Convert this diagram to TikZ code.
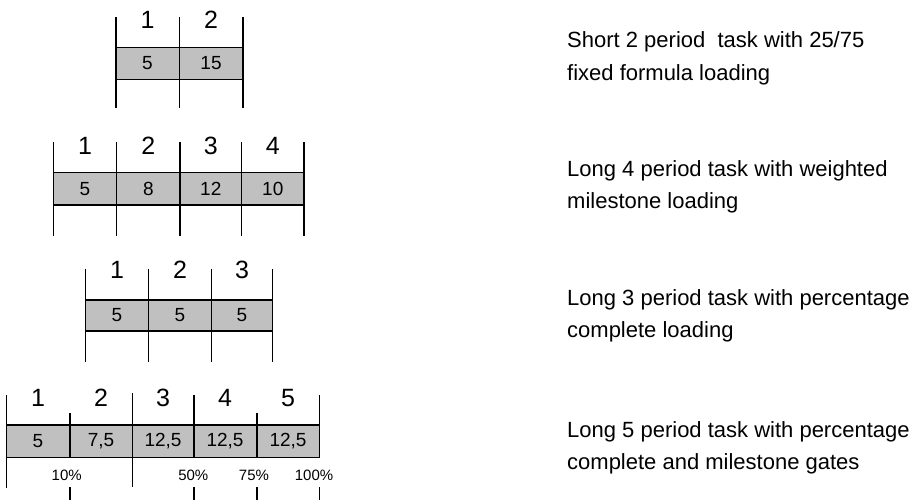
\documentclass[tikz,border=0pt]{standalone}
\usepackage{fontspec}
\setmainfont{Liberation Sans}
\definecolor{bandgray}{HTML}{C0C0C0}
\tikzset{
  rule/.style={line width=1.3pt, black},
  toplab/.style={inner sep=0pt, font=\fontsize{25}{25}\selectfont},
  celllab/.style={inner sep=0pt, font=\fontsize{19}{19}\selectfont},
  pctlab/.style={inner sep=0pt, font=\fontsize{15}{15}\selectfont},
  desc/.style={inner sep=0pt, anchor=base west, font=\fontsize{22}{22}\selectfont}
}
\begin{document}
\begin{tikzpicture}[x=1pt,y=-1pt]
\useasboundingbox (0,0) rectangle (912,500);
% ---------- Row 1 ----------
\fill[bandgray] (116,47.5) rectangle (243,79.5);
\draw[rule] (116,47.5) -- (243,47.5) (116,79.5) -- (243,79.5);
\foreach \x in {116,179.5,243} \draw[rule] (\x,17) -- (\x,108);
\node[toplab] (r1t1) at (147.5,20) {1};
\node[toplab] (r1t2) at (211,20) {2};
\node[celllab] (r1c1) at (147.5,63.5) {5};
\node[celllab] (r1c2) at (211,63.5) {15};
% ---------- Row 2 ----------
\fill[bandgray] (53.3,172.5) rectangle (304,205);
\draw[rule] (53.3,172.5) -- (304,172.5) (53.3,205) -- (304,205);
\foreach \x in {53.3,116.7,180,241.7,304} \draw[rule] (\x,142) -- (\x,236);
\node[toplab] (r2t1) at (85,146) {1};
\node[toplab] (r2t2) at (148.3,146) {2};
\node[toplab] (r2t3) at (210.8,146) {3};
\node[toplab] (r2t4) at (272.8,146) {4};
\node[celllab] (r2c1) at (85,188.7) {5};
\node[celllab] (r2c2) at (148.3,188.7) {8};
\node[celllab] (r2c3) at (210.8,188.7) {12};
\node[celllab] (r2c4) at (272.8,188.7) {10};
% ---------- Row 3 ----------
\fill[bandgray] (85.7,300) rectangle (272.5,331);
\draw[rule] (85.7,300) -- (272.5,300) (85.7,331) -- (272.5,331);
\foreach \x in {85.7,148.3,211.7,272.5} \draw[rule] (\x,269) -- (\x,362);
\node[toplab] (r3t1) at (117,270) {1};
\node[toplab] (r3t2) at (180,270) {2};
\node[toplab] (r3t3) at (242,270) {3};
\node[celllab] (r3c1) at (117,315.5) {5};
\node[celllab] (r3c2) at (180,315.5) {5};
\node[celllab] (r3c3) at (242,315.5) {5};
% ---------- Row 4 ----------
\fill[bandgray] (6.7,425) rectangle (319.3,457.5);
\draw[rule] (6.7,425) -- (319.3,425) (6.7,457.5) -- (319.3,457.5);
\draw[rule] (6.7,395) -- (6.7,488);
\draw[rule] (132.7,393) -- (132.7,487);
\foreach \x/\t in {70/413,194/395,257/413,319.3/395} {
  \draw[rule] (\x,\t) -- (\x,457.5);
  \draw[rule] (\x,487) -- (\x,500);
}
\node[toplab] (r4t1) at (38,398) {1};
\node[toplab] (r4t2) at (101,398) {2};
\node[toplab] (r4t3) at (163,398) {3};
\node[toplab] (r4t4) at (225,398) {4};
\node[toplab] (r4t5) at (288,398) {5};
\node[celllab] (r4c1) at (38,441.3) {5};
\node[celllab] (r4c2) at (101,441.3) {7,5};
\node[celllab] (r4c3) at (163,441.3) {12,5};
\node[celllab] (r4c4) at (225,441.3) {12,5};
\node[celllab] (r4c5) at (288,441.3) {12,5};
\node[pctlab] (p10) at (66.7,475) {10\%};
\node[pctlab] (p50) at (193.3,475) {50\%};
\node[pctlab] (p75) at (254,475) {75\%};
\node[pctlab] (p100) at (314,475) {100\%};
% ---------- Descriptions ----------
\node[desc] (d1a) at (567,48) {Short 2 period\ \ task with 25/75};
\node[desc] (d1b) at (567,80.5) {fixed formula loading};
\node[desc] (d2a) at (567,176) {Long 4 period task with weighted};
\node[desc] (d2b) at (567,208) {milestone loading};
\node[desc] (d3a) at (567,305) {Long 3 period task with percentage};
\node[desc] (d3b) at (567,337) {complete loading};
\node[desc] (d4a) at (567,437) {Long 5 period task with percentage};
\node[desc] (d4b) at (567,469) {complete and milestone gates};
\end{tikzpicture}
\end{document}
